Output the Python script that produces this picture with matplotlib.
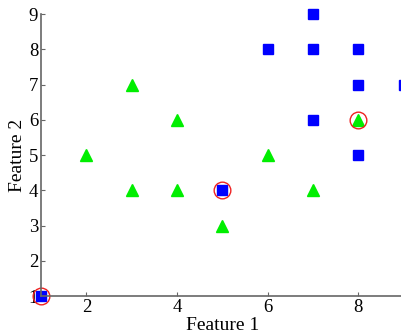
import matplotlib.pyplot as plt

# class 1 (blue squares)
blue_x = [7, 6, 7, 8, 8, 9, 7, 8, 5, 1]
blue_y = [9, 8, 8, 8, 7, 7, 6, 5, 4, 1]
# class 2 (green triangles)
green_x = [3, 4, 2, 6, 3, 4, 7, 5, 8]
green_y = [7, 6, 5, 5, 4, 4, 4, 3, 6]
# highlighted points (red circles)
circ_x = [1, 5, 8]
circ_y = [1, 4, 6]

plt.rcParams['font.family'] = 'Liberation Serif'

fig = plt.figure(figsize=(4.02, 3.35), dpi=100)
ax = fig.add_axes([0.102, 0.1164, 0.902, 0.8418])

ax.plot(blue_x, blue_y, 's', color='#0000ff', markersize=7, clip_on=False)
ax.plot(green_x, green_y, '^', color='#00ee00', markersize=9, clip_on=False)
ax.plot(circ_x, circ_y, 'o', markerfacecolor='none', markeredgecolor='#ee2222',
        markersize=12, markeredgewidth=1, clip_on=False)

ax.set_xlim(1, 9)
ax.set_ylim(1, 9)
ax.set_xticks([2, 4, 6, 8])
ax.set_yticks(range(1, 10))
ax.tick_params(direction='in', length=3, labelsize=13.5, color='#666666', pad=2)
for s in ['top', 'right']:
    ax.spines[s].set_visible(False)
for s in ['left', 'bottom']:
    ax.spines[s].set_color('#666666')
    ax.spines[s].set_linewidth(1.2)

ax.set_xlabel('Feature 1', fontsize=14, labelpad=1)
ax.set_ylabel('Feature 2', fontsize=14, labelpad=2)

fig.savefig('out.png', dpi=100)
